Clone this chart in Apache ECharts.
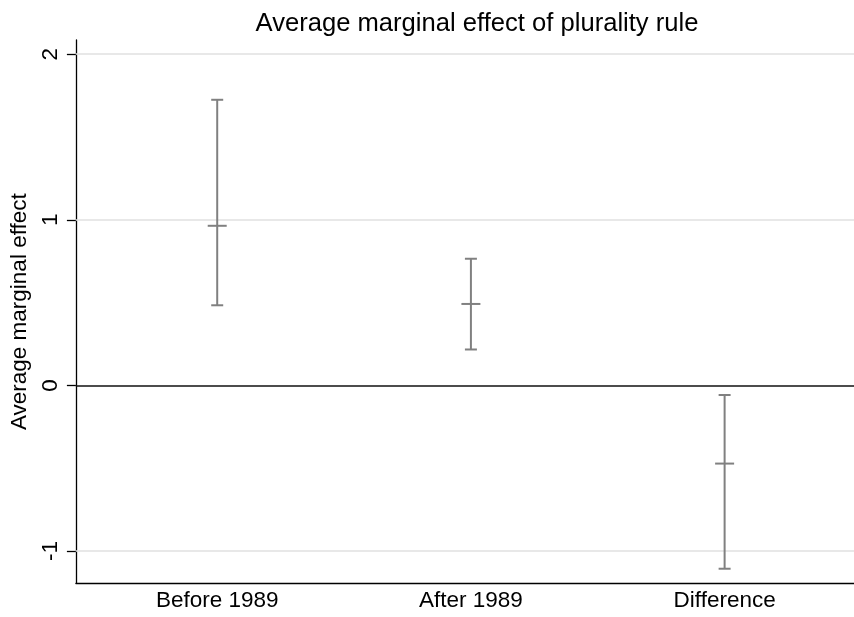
<!DOCTYPE html>
<html>
<head>
<meta charset="utf-8">
<script src="https://cdn.jsdelivr.net/npm/echarts@6/dist/echarts.min.js"></script>
<style>
  html, body { margin: 0; padding: 0; background: #ffffff; }
  #chart { width: 854px; height: 617px; }
</style>
</head>
<body>
<div id="chart"></div>
<script>
// Estimates with 95% confidence intervals
const categories = ['Before 1989', 'After 1989', 'Difference'];
const xPositions = [1, 2, 3];
const estimates = [0.964, 0.492, -0.472];
const lowerCI = [0.484, 0.217, -1.107];
const upperCI = [1.725, 0.765, -0.058];
const yTicks = [-1, 0, 1, 2];

const FONT = '"Liberation Sans", Arial, Helvetica, sans-serif';
const BAR_COLOR = '#808080';

const seriesData = xPositions.map((x, i) => [x, estimates[i], lowerCI[i], upperCI[i]]);

const chart = echarts.init(document.getElementById('chart'), null, { renderer: 'canvas' });

chart.setOption({
  animation: false,
  backgroundColor: '#ffffff',
  title: {
    text: 'Average marginal effect of plurality rule',
    left: 472,
    textAlign: 'center',
    top: 6,
    textStyle: { fontFamily: FONT, fontSize: 25.6, fontWeight: 'normal', color: '#000000' }
  },
  grid: { left: 74, right: 0, top: 40, bottom: 617 - 583.3 },
  xAxis: {
    type: 'value',
    min: 0.443,
    max: 3.51,
    axisLine: { show: true, onZero: false, lineStyle: { color: '#000000', width: 1.3 } },
    axisTick: { show: false },
    splitLine: { show: false },
    axisLabel: {
      customValues: xPositions,
      formatter: v => categories[xPositions.indexOf(Math.round(v))] || '',
      fontFamily: FONT,
      fontSize: 22.5,
      color: '#000000',
      margin: 6
    }
  },
  yAxis: {
    type: 'value',
    min: -1.195,
    max: 2.086,
    name: 'Average marginal effect',
    nameLocation: 'middle',
    nameRotate: 90,
    nameGap: 37,
    nameTextStyle: { fontFamily: FONT, fontSize: 22.5, color: '#000000' },
    axisLine: { show: true, onZero: false, lineStyle: { color: '#000000', width: 1.3 } },
    axisTick: { show: true, customValues: yTicks, length: 9, lineStyle: { color: '#000000', width: 1.3 } },
    splitLine: { show: false },
    axisLabel: {
      customValues: yTicks,
      rotate: 90,
      fontFamily: FONT,
      fontSize: 22.5,
      color: '#000000',
      margin: 14
    }
  },
  series: [
    {
      // horizontal reference lines at the labelled ticks
      type: 'line',
      data: [],
      silent: true,
      z: 1,
      markLine: {
        silent: true,
        symbol: 'none',
        label: { show: false },
        animation: false,
        data: yTicks.map(v => ({
          yAxis: v,
          lineStyle: v === 0
            ? { color: '#111111', width: 1.5, type: 'solid' }
            : { color: '#e0e0e0', width: 1.6, type: 'solid' }
        }))
      }
    },
    {
      type: 'custom',
      z: 5,
      data: seriesData,
      encode: { x: 0, y: [1, 2, 3] },
      renderItem: function (params, api) {
        const x = api.value(0);
        const pEst = api.coord([x, api.value(1)]);
        const pLo = api.coord([x, api.value(2)]);
        const pHi = api.coord([x, api.value(3)]);
        const style = { stroke: BAR_COLOR, lineWidth: 2, fill: null };
        const cap = 6;
        const mid = 9.5;
        return {
          type: 'group',
          children: [
            { type: 'line', shape: { x1: pLo[0], y1: pLo[1], x2: pHi[0], y2: pHi[1] }, style: style },
            { type: 'line', shape: { x1: pLo[0] - cap, y1: pLo[1], x2: pLo[0] + cap, y2: pLo[1] }, style: style },
            { type: 'line', shape: { x1: pHi[0] - cap, y1: pHi[1], x2: pHi[0] + cap, y2: pHi[1] }, style: style },
            { type: 'line', shape: { x1: pEst[0] - mid, y1: pEst[1], x2: pEst[0] + mid, y2: pEst[1] }, style: style }
          ]
        };
      }
    }
  ]
});
</script>
</body>
</html>
